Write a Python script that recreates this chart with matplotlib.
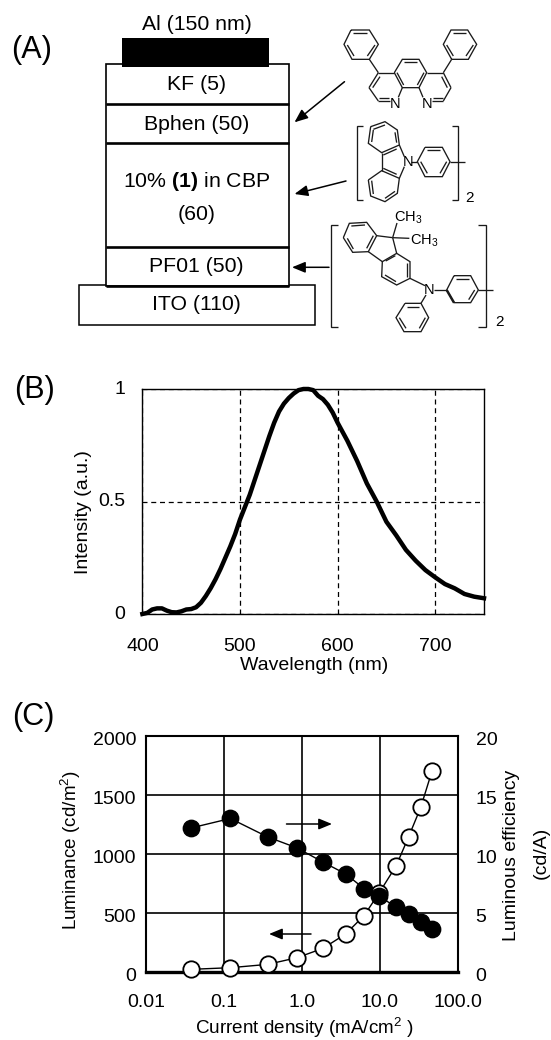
"""Three panel OLED figure: device stack, EL spectrum, J-L-efficiency curves."""
import matplotlib
matplotlib.use("Agg")
import matplotlib.pyplot as plt
from matplotlib.patches import Rectangle
from matplotlib.transforms import ScaledTranslation

plt.rcParams["font.family"] = ["Liberation Sans", "DejaVu Sans"]
plt.rcParams["mathtext.fontset"] = "custom"
plt.rcParams["mathtext.rm"] = "Liberation Sans"
plt.rcParams["mathtext.bf"] = "Liberation Sans:bold"
plt.rcParams["mathtext.default"] = "regular"

W, H = 551, 1040
FS = 14

# spectrum, panel B
wavelength = [400, 405, 410, 415, 420, 425, 430, 435, 440, 445, 450, 455, 460, 465, 470,
              475, 480, 485, 490, 495, 500, 505, 510, 515, 520, 525, 530, 535, 540, 545, 550,
              555, 560, 565, 570, 575, 580, 585, 590, 595, 600, 610, 620, 630, 640, 650, 660,
              670, 680, 690, 700, 710, 720, 730, 740, 750]
intensity = [0.0, 0.005, 0.02, 0.025, 0.025, 0.015, 0.008, 0.007, 0.012, 0.02, 0.022, 0.03,
             0.05, 0.08, 0.115, 0.155, 0.2, 0.25, 0.3, 0.355, 0.42, 0.475, 0.53, 0.595, 0.66,
             0.725, 0.79, 0.85, 0.9, 0.935, 0.96, 0.98, 0.995, 1.0, 1.0, 0.995, 0.97, 0.955,
             0.93, 0.895, 0.85, 0.77, 0.68, 0.58, 0.5, 0.41, 0.35, 0.285, 0.237, 0.195, 0.163,
             0.133, 0.114, 0.089, 0.077, 0.07]

# device data, panel C
current = [0.038, 0.121, 0.363, 0.87, 1.87, 3.65, 6.3, 9.9, 16.3, 23.6, 33.7, 46.8]
luminance = [20, 34, 62, 119, 198, 320, 476, 671, 900, 1147, 1396, 1700]
efficiency = [12.2, 13.0, 11.44, 10.5, 9.3, 8.3, 7.05, 6.4, 5.47, 4.9, 4.2, 3.6]

# stack, panel A
layer_labels = ["KF (5)", "Bphen (50)", "10% $\\mathbf{(1)}$ in CBP", "(60)", "PF01 (50)", "ITO (110)"]
layer_label_y = [85, 124, 181.7, 215, 266.7, 305]


def px_axes(l, t, r, b):
    return fig.add_axes([l / W, 1 - b / H, (r - l) / W, (b - t) / H])


fig = plt.figure(figsize=(W / 100, H / 100), dpi=100)

# ---------------------------------------------------------------------------
#  Panel B
# ---------------------------------------------------------------------------
ax = px_axes(142.4, 389, 484, 614)
ax.plot(wavelength, intensity, color="k", lw=3.2, clip_on=False, zorder=5)
ax.set_xlim(400, 750)
ax.set_ylim(0, 1)
ax.set_xticks([400, 500, 600, 700])
ax.set_yticks([0, 0.5, 1])
ax.set_yticklabels(["0", "0.5", "1"])
ax.tick_params(length=0, labelsize=FS)
ax.tick_params(axis="x", pad=17)
ax.tick_params(axis="y", pad=12.5)
ax.grid(True, color="k", ls=(0, (4, 3)), lw=0.9)
ax.set_axisbelow(True)
for s in ax.spines.values():
    s.set_linewidth(1.0)
for lab in ax.get_yticklabels():
    lab.set_transform(lab.get_transform() + ScaledTranslation(0, 1.5 / 100, fig.dpi_scale_trans))

# ---------------------------------------------------------------------------
#  Panel C
# ---------------------------------------------------------------------------
ax = px_axes(146, 736, 457.6, 971.7)
ax.set_xscale("log")
ax.set_xlim(0.01, 100)
ax.set_ylim(0, 2000)
ax.set_xticks([0.01, 0.1, 1, 10, 100])
ax.set_xticklabels(["0.01", "0.1", "1.0", "10.0", "100.0"])
ax.minorticks_off()
ax.set_yticks([0, 500, 1000, 1500, 2000])
ax.tick_params(length=0, labelsize=FS)
ax.tick_params(axis="x", pad=16)
ax.tick_params(axis="y", pad=7)
ax.grid(True, color="k", lw=1.2)
ax.set_axisbelow(True)
for s in ax.spines.values():
    s.set_linewidth(1.5)
ax.spines["bottom"].set_linewidth(2.4)
ax.plot(current, luminance, "-o", color="k", lw=1.0, ms=11.8, mfc="white", mec="k", mew=1.3,
        clip_on=False, zorder=3)
for lab in ax.get_yticklabels():
    lab.set_transform(lab.get_transform() + ScaledTranslation(0, -2.5 / 100, fig.dpi_scale_trans))

ax2 = ax.twinx()
ax2.set_ylim(0, 20)
ax2.set_yticks([0, 5, 10, 15, 20])
ax2.tick_params(length=0, labelsize=FS, pad=13)
ax2.plot(current, efficiency, "-o", color="k", lw=1.0, ms=11.8, mfc="k", mec="k", clip_on=False, zorder=4)
for s in ax2.spines.values():
    s.set_visible(False)
for lab in ax2.get_yticklabels():
    lab.set_transform(lab.get_transform() + ScaledTranslation(0, -2.5 / 100, fig.dpi_scale_trans))

# ---------------------------------------------------------------------------
#  Overlay in image pixels: schematic, structures, labels
# ---------------------------------------------------------------------------
ov = fig.add_axes([0, 0, 1, 1], zorder=10)
ov.set_xlim(0, W)
ov.set_ylim(H, 0)
ov.axis("off")
ov.patch.set_alpha(0)


def txt(x, y, s, size=FS, **kw):
    kw.setdefault("ha", "center")
    kw.setdefault("va", "center")
    ov.text(x, y, s, fontsize=size, color="k", **kw)


def arrow(x0, y0, x1, y1):
    ov.annotate("", xy=(x1, y1), xytext=(x0, y0),
                arrowprops=dict(arrowstyle="-|>,head_length=0.8,head_width=0.33", color="k", lw=1.1,
                                shrinkA=0, shrinkB=0))


txt(32, 50, "(A)", 22)
txt(35, 390, "(B)", 22)
txt(33, 717, "(C)", 22)

# device stack
ov.add_patch(Rectangle((79, 285), 236, 40, fc="white", ec="k", lw=1.1))
ov.add_patch(Rectangle((105.5, 64), 183.5, 221.7, fc="white", ec="k", lw=1.2))
for yy in [104.3, 143, 247, 285.7]:
    ov.plot([105.5, 289], [yy, yy], color="k", lw=1.9, solid_capstyle="butt")
ov.add_patch(Rectangle((122, 37.7), 147, 29, fc="k", ec="k", lw=0))
txt(197, 24, "Al (150 nm)", 15.3)
for lab, yy in zip(layer_labels, layer_label_y):
    txt(196.5, yy, lab, 15.3)

arrow(344.5, 81.7, 294.5, 122.3)
arrow(346, 181, 294.5, 194)
arrow(329, 267.3, 292, 267.3)


def bonds(ox, oy, pts, closed=False, lw=0.95):
    xs = [ox + p[0] / 3 for p in pts]
    ys = [oy + p[1] / 3 for p in pts]
    if closed:
        xs.append(xs[0])
        ys.append(ys[0])
    ov.plot(xs, ys, color="#1a1a1a", lw=lw, solid_joinstyle="miter", solid_capstyle="butt")


def many(ox, oy, segs):
    for seg in segs:
        bonds(ox, oy, seg)


# Bphen
ox, oy = 330, 20
bonds(ox, oy, [(63, 30), (118, 30), (145, 73), (118, 118), (66, 118), (42, 73)], True)
bonds(ox, oy, [(365, 118), (415, 118), (440, 73), (413, 30), (363, 30), (340, 73)], True)
bonds(ox, oy, [(193, 158), (217, 118), (267, 118), (290, 158), (267, 203), (217, 203)], True)
many(ox, oy, [
    [(70, 38), (112, 38)], [(135, 75), (112, 108)], [(52, 75), (72, 108)],
    [(370, 38), (408, 38)], [(430, 75), (408, 108)], [(350, 75), (370, 108)],
    [(118, 118), (145, 158)], [(365, 118), (340, 158)],
    [(145, 158), (193, 158)], [(145, 158), (117, 203)], [(150, 170), (128, 203)],
    [(117, 203), (145, 243)], [(145, 243), (180, 243)], [(148, 235), (178, 235)],
    [(205, 232), (217, 203)],
    [(290, 158), (340, 158)], [(340, 158), (363, 203)], [(335, 170), (352, 203)],
    [(363, 203), (340, 243)], [(340, 243), (305, 243)], [(338, 235), (308, 235)],
    [(279, 232), (267, 203)],
    [(222, 127), (262, 127)], [(201, 158), (221, 195)], [(282, 158), (262, 195)],
])
txt(ox + 195 / 3, oy + 252 / 3, "N", 10.5)
txt(ox + 292 / 3, oy + 252 / 3, "N", 10.5)

# carbazole unit
ox, oy = 340, 120
bonds(ox, oy, [(92, 20), (135, 5), (172, 30), (178, 75), (125, 98), (85, 70)], True)
bonds(ox, oy, [(85, 180), (92, 228), (135, 245), (172, 220), (178, 175), (125, 152)], True)
bonds(ox, oy, [(255, 82), (307, 82), (330, 125), (307, 170), (255, 170), (232, 125)], True)
many(ox, oy, [
    [(178, 75), (193, 110)], [(178, 175), (193, 140)], [(125, 98), (125, 152)],
    [(100, 28), (135, 15)], [(165, 37), (170, 68)], [(95, 66), (100, 30)],
    [(95, 182), (100, 222)], [(135, 235), (165, 214)], [(130, 145), (170, 163)], [(130, 105), (170, 87)],
    [(212, 125), (232, 125)], [(262, 91), (300, 91)], [(320, 125), (300, 160)], [(262, 160), (242, 125)],
    [(330, 125), (375, 125)],
    [(68, 18), (50, 18), (50, 240), (68, 240)], [(335, 18), (355, 18), (355, 240), (335, 240)],
])
txt(ox + 203 / 3, oy + 125 / 3, "N", 10.5)
txt(ox + 388 / 3, oy + 233 / 3, "2", 11)

# fluorene amine unit
ox, oy = 320, 215
bonds(ox, oy, [(70, 68), (88, 25), (140, 22), (170, 62), (145, 110), (98, 112)], True)
bonds(ox, oy, [(230, 115), (270, 140), (270, 190), (230, 210), (185, 185), (187, 140)], True)
bonds(ox, oy, [(402, 182), (452, 182), (475, 225), (452, 263), (402, 263), (380, 225)], True)
bonds(ox, oy, [(255, 265), (303, 265), (326, 308), (303, 350), (252, 350), (228, 308)], True)
many(ox, oy, [
    [(170, 62), (218, 68)], [(218, 68), (230, 115)], [(145, 110), (187, 140)],
    [(218, 68), (231, 24)], [(218, 68), (268, 70)],
    [(94, 33), (135, 30)], [(82, 70), (100, 102)], [(160, 62), (140, 100)],
    [(197, 138), (226, 122)], [(260, 145), (260, 185)], [(228, 200), (195, 180)],
    [(270, 190), (315, 212)], [(342, 225), (380, 225)], [(318, 240), (303, 265)],
    [(408, 191), (446, 191)], [(464, 225), (446, 254)],
    [(262, 275), (298, 275)], [(316, 308), (298, 340)], [(258, 340), (238, 308)],
    [(475, 225), (520, 225)],
    [(55, 30), (33, 30), (33, 337), (55, 337)], [(475, 30), (497, 30), (497, 337), (475, 337)],
])
bonds(ox, oy, [(380, 225), (402, 263)], lw=1.8)
txt(ox + 326 / 3, oy + 226 / 3, "N", 10.5)
txt(ox + 265 / 3, oy + 8 / 3, "CH$_3$", 10.5)
txt(ox + 312 / 3, oy + 76 / 3, "CH$_3$", 10.5)
txt(ox + 537 / 3, oy + 322 / 3, "2", 11)

# axis titles
txt(84, 512.5, "Intensity (a.u.)", rotation=90)
txt(314, 666, "Wavelength (nm)")
txt(71, 850, "Luminance (cd/m$^2$)", size=13.6, rotation=90)
txt(304, 1034, "Current density (mA/cm$^2$ )", size=13.6, va="baseline")
txt(511, 855, "Luminous efficiency", rotation=90)
txt(541, 853, "(cd/A)", rotation=90)

# direction arrows in panel C
arrow(286.5, 824, 332, 824)
arrow(311, 934, 269, 934)

fig.savefig("out.png", dpi=100)
